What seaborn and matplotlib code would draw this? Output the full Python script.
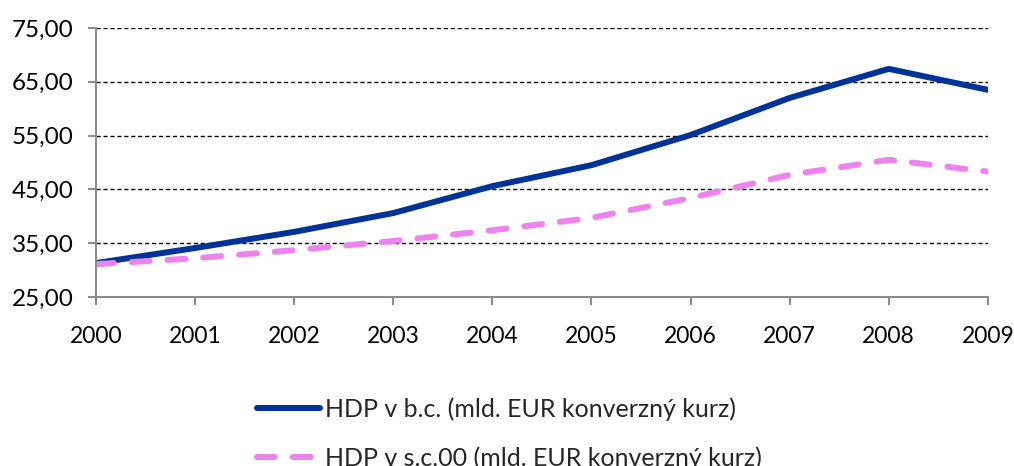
import pandas as pd
import matplotlib.pyplot as plt
import seaborn as sns

years = [2000, 2001, 2002, 2003, 2004, 2005, 2006, 2007, 2008, 2009]
hdp_bc = [31.3, 34.1, 37.1, 40.6, 45.6, 49.5, 55.1, 62.0, 67.4, 63.5]
hdp_sc00 = [31.1, 32.2, 33.7, 35.4, 37.4, 39.7, 43.4, 47.7, 50.5, 48.3]
label_bc = 'HDP v b.c. (mld. EUR konverzný kurz)'
label_sc = 'HDP v s.c.00 (mld. EUR konverzný kurz)'
y_ticks = [25, 35, 45, 55, 65, 75]

sns.set_theme(style='white')
plt.rcParams['font.family'] = ['Lato', 'DejaVu Sans']

df = pd.DataFrame({'rok': years, 'bc': hdp_bc, 'sc': hdp_sc00})

fig = plt.figure(figsize=(10.14, 4.66), dpi=100)
ax = fig.add_axes([0.0947, 0.3627, 0.8795, 0.5773])

sns.lineplot(data=df, x='rok', y='bc', ax=ax, color='#003399', linewidth=4.3,
             label=label_bc, solid_capstyle='round')
sns.lineplot(data=df, x='rok', y='sc', ax=ax, color='#EE82EE', linewidth=4.3,
             label=label_sc, dashes=False)
pink = ax.lines[1]
pink.set_dashes((3.0, 3.0))
pink.set_dash_capstyle('round')

ax.set_xlim(2000, 2009)
ax.set_ylim(25, 75)
ax.set_xticks(years)
ax.set_yticks(y_ticks)
ax.set_yticklabels([f'{v:.2f}'.replace('.', ',') for v in y_ticks])
ax.set_xlabel('')
ax.set_ylabel('')

# dashed black gridlines
for v in y_ticks[1:]:
    ax.axhline(v, color='black', linestyle=(0, (3, 2)), linewidth=1.0, zorder=0)

for s in ['top', 'right']:
    ax.spines[s].set_visible(False)
for s in ['left', 'bottom']:
    ax.spines[s].set_color('#8c8c8c')
    ax.spines[s].set_linewidth(1.5)

ax.tick_params(axis='both', which='major', direction='out', length=6, width=1.5,
               color='#8c8c8c', labelcolor='black')
ax.tick_params(axis='y', pad=10, left=True, labelsize=17.5)
ax.tick_params(axis='x', pad=15, bottom=True, labelsize=16.5)

ax.legend(loc='upper left', bbox_to_anchor=(0.2535, 0.148), bbox_transform=fig.transFigure,
          frameon=False, fontsize=18, handlelength=2.5, handletextpad=0.2,
          labelspacing=1.03, borderaxespad=0, borderpad=0)

plt.savefig('out.png', dpi=100)
